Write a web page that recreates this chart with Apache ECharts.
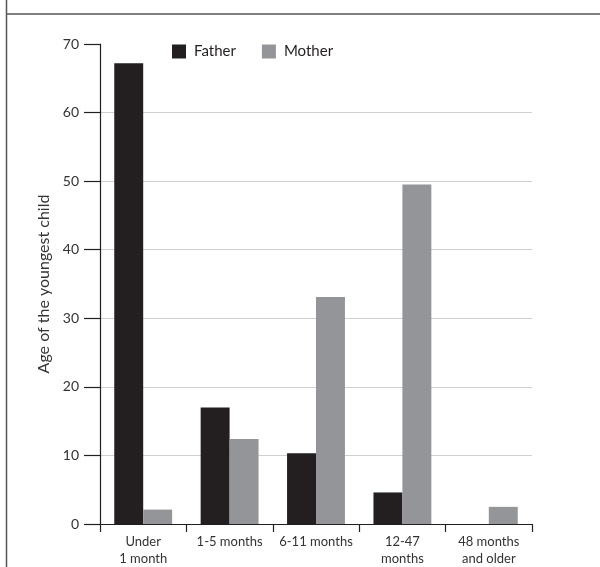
<!DOCTYPE html>
<html>
<head>
<meta charset="utf-8">
<script src="https://cdn.jsdelivr.net/npm/echarts@6/dist/echarts.min.js"></script>
<style>html,body{margin:0;padding:0;background:#fff}#c{width:600px;height:567px}</style>
</head>
<body>
<div id="c"></div>
<script>
const categories = ["Under\n1 month", "1-5 months", "6-11 months", "12-47\nmonths", "48 months\nand older"];
const fatherValues = [67.2, 17.0, 10.3, 4.6, 0];
const motherValues = [2.1, 12.4, 33.1, 49.5, 2.5];
const yTicks = [0, 10, 20, 30, 40, 50, 60, 70];

const chart = echarts.init(document.getElementById('c'), null, {renderer: 'canvas'});
const font = 'Lato, "Open Sans", sans-serif';
chart.setOption({
  animation: false,
  backgroundColor: '#fff',
  graphic: [
    {type: 'line', shape: {x1: 6.5, y1: 0, x2: 6.5, y2: 567}, style: {stroke: '#555', lineWidth: 1.5}},
    {type: 'line', shape: {x1: 6, y1: 14, x2: 600, y2: 14}, style: {stroke: '#555', lineWidth: 1.5}}
  ],
  legend: {
    left: 172, top: 44, padding: 0,
    itemWidth: 14, itemHeight: 14, itemGap: 26,
    icon: 'rect',
    textStyle: {fontFamily: font, fontSize: 15, color: '#231f20', padding: [0, 0, 0, 3]},
    data: ['Father', 'Mother']
  },
  grid: {left: 100, right: 68, top: 44, bottom: 43},
  xAxis: {
    type: 'category',
    data: categories,
    axisLine: {lineStyle: {color: '#231f20', width: 1.2}},
    axisTick: {show: true, length: 8, interval: 0, lineStyle: {color: '#231f20', width: 1.2}},
    axisLabel: {interval: 0, fontFamily: font, fontSize: 13, color: '#333', margin: 9, lineHeight: 17}
  },
  yAxis: {
    type: 'value',
    min: 0, max: 70, interval: 10,
    name: 'Age of the youngest child',
    nameLocation: 'middle',
    nameGap: 47,
    nameTextStyle: {fontFamily: font, fontSize: 16, color: '#333'},
    axisLine: {show: true, lineStyle: {color: '#231f20', width: 1.2}},
    axisTick: {show: true, length: 16, lineStyle: {color: '#231f20', width: 1.2}},
    axisLabel: {fontFamily: font, fontSize: 14, color: '#333', margin: 21,
      formatter: v => yTicks.includes(v) ? String(v) : ''},
    splitLine: {show: true, lineStyle: {color: '#d0d0d0', width: 1.2},
      showMaxLine: false, showMinLine: false}
  },
  series: [
    {name: 'Father', type: 'bar', data: fatherValues, itemStyle: {color: '#231f20'},
     barGap: '0%', barCategoryGap: '33%'},
    {name: 'Mother', type: 'bar', data: motherValues, itemStyle: {color: '#939598'},
     barGap: '0%', barCategoryGap: '33%'}
  ]
});
</script>
</body>
</html>
